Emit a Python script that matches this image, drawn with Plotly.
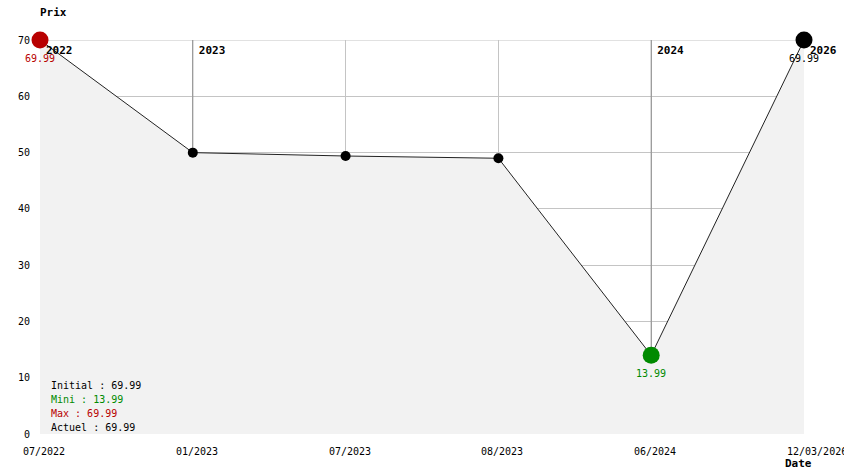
import plotly.graph_objects as go

# ---- data ----
dates = ["07/2022", "01/2023", "07/2023", "08/2023", "06/2024", "12/03/2026"]
prices = [69.99, 49.99, 49.39, 48.99, 13.99, 69.99]
year_labels = ["2022", "2023", "", "", "2024", "2026"]
year_line_dates = ["01/2023", "06/2024"]
summary_labels = ["Initial : 69.99", "Mini : 13.99", "Max : 69.99", "Actuel : 69.99"]

RED = "#b80000"
GREEN = "#008a00"
BLACK = "#000000"
FONT = "DejaVu Sans Mono"

marker_colors = [RED, BLACK, BLACK, BLACK, GREEN, BLACK]
marker_sizes = [17, 10, 10, 10, 17, 17]
summary_colors = [BLACK, GREEN, RED, BLACK]

fig = go.Figure()

# area + line
fig.add_trace(go.Scatter(
    x=dates, y=prices, mode="lines", fill="tozeroy",
    fillcolor="#f2f2f2", line=dict(color="#222222", width=1),
    hoverinfo="skip", showlegend=False, cliponaxis=False,
))

# year labels (under markers); invisible marker only to offset the text
fig.add_trace(go.Scatter(
    x=dates, y=[70] * len(dates), mode="markers+text", text=year_labels,
    textposition="bottom right",
    marker=dict(size=8, opacity=0),
    textfont=dict(family=FONT, size=11, color="black", weight="bold"),
    hoverinfo="skip", showlegend=False, cliponaxis=False,
))

# markers
fig.add_trace(go.Scatter(
    x=dates, y=prices, mode="markers",
    marker=dict(color=marker_colors, size=marker_sizes, opacity=1, line=dict(width=0)),
    hoverinfo="skip", showlegend=False, cliponaxis=False,
))

# year separator lines
for d in year_line_dates:
    fig.add_shape(type="line", xref="x", yref="y", x0=d, x1=d, y0=0, y1=70,
                  line=dict(color="#8c8c8c", width=1), layer="between")
# top grid line
fig.add_shape(type="line", xref="paper", yref="y", x0=0, x1=1, y0=70, y1=70,
              line=dict(color="#c4c4c4", width=1), layer="below")

annotations = []
# x tick labels
for d in dates:
    annotations.append(dict(x=d, y=0, xref="x", yref="paper", text=d, showarrow=False,
                            xanchor="left", yanchor="middle", xshift=-19, yshift=-17,
                            font=dict(family=FONT, size=10, color="black")))
# value labels
val_idx = [0, 4, 5]
for i in val_idx:
    annotations.append(dict(x=dates[i], y=prices[i], xref="x", yref="y",
                            text=f"{prices[i]:.2f}", showarrow=False,
                            xanchor="center", yanchor="middle", yshift=-18,
                            font=dict(family=FONT, size=10, color=marker_colors[i])))
# summary block
for k, (t, c) in enumerate(zip(summary_labels, summary_colors)):
    annotations.append(dict(x=0, y=0, xref="paper", yref="paper", text=t, showarrow=False,
                            xanchor="left", yanchor="middle", xshift=9,
                            yshift=49 - 14 * k,
                            font=dict(family=FONT, size=10, color=c)))
# axis titles
annotations.append(dict(x=0, y=1, xref="paper", yref="paper", text="<b>Prix</b>",
                        showarrow=False, xanchor="left", yanchor="middle", yshift=28, xshift=-2,
                        font=dict(family=FONT, size=11, color="black")))
annotations.append(dict(x=1, y=0, xref="paper", yref="paper", text="<b>Date</b>",
                        showarrow=False, xanchor="left", yanchor="middle", xshift=-21, yshift=-29,
                        font=dict(family=FONT, size=11, color="black")))

fig.update_layout(
    width=844, height=474,
    margin=dict(l=40, r=40, t=40, b=40),
    paper_bgcolor="white", plot_bgcolor="white",
    font=dict(family=FONT, size=10, color="black"),
    annotations=annotations,
    xaxis=dict(type="category", range=[0, len(dates) - 1], showgrid=True,
               gridcolor="#c4c4c4", gridwidth=1, showticklabels=False,
               zeroline=False, showline=False, ticks=""),
    yaxis=dict(range=[0, 70], dtick=10, showgrid=True, gridcolor="#c4c4c4",
               zeroline=False, showline=False, ticks="", ticklabelstandoff=9,
               tickfont=dict(family=FONT, size=10, color="black")),
)

fig.write_html("out.html", config={"displayModeBar": False},
               post_script="document.body.style.margin='0';document.body.style.overflow='hidden';")
